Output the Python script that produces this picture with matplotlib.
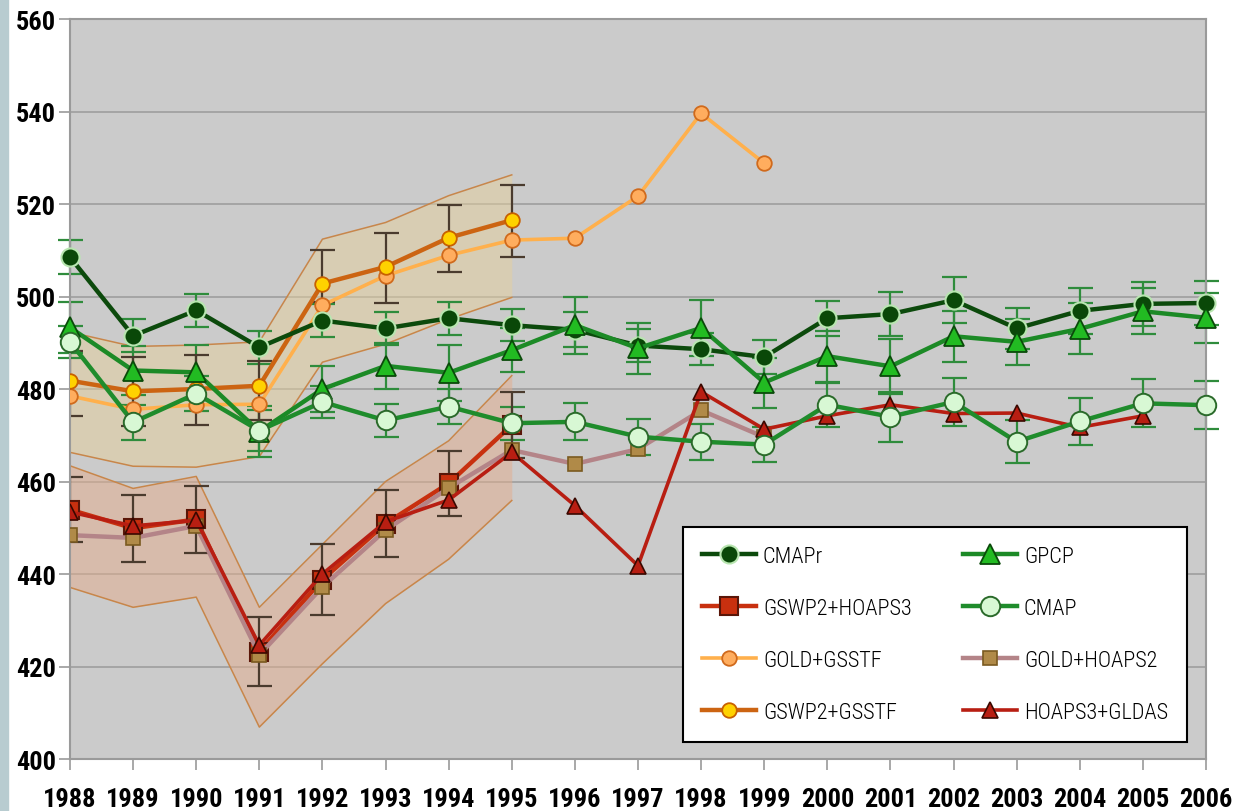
import numpy as np
import matplotlib.pyplot as plt
from matplotlib import font_manager
from matplotlib.patches import Rectangle

nan = np.nan

# ---- data -------------------------------------------------------------
years = [1988, 1989, 1990, 1991, 1992, 1993, 1994, 1995, 1996, 1997,
         1998, 1999, 2000, 2001, 2002, 2003, 2004, 2005, 2006]
ens_years = years[:8]

cmapr = [508.5, 491.5, 497.0, 489.0, 494.8, 493.1, 495.3, 493.8, 492.8, 489.4,
         488.6, 486.9, 495.3, 496.2, 499.2, 493.1, 496.9, 498.4, 498.6]
cmapr_err = [3.7, 3.6, 3.5, 3.5, 3.5, 3.5, 3.6, 3.5, 3.8, 3.6,
             3.5, 3.6, 3.8, 4.8, 5.0, 4.5, 4.9, 4.7, 4.8]

gpcp = [493.3, 484.0, 483.6, 470.8, 480.0, 485.0, 483.5, 488.4, 493.8, 488.8,
        493.2, 481.4, 487.1, 484.9, 491.4, 490.2, 493.0, 496.8, 495.4]
gpcp_err = [5.6, 5.2, 6.0, 5.5, 5.0, 5.0, 6.0, 4.8, 6.2, 5.5,
            6.0, 5.4, 5.5, 6.0, 5.5, 5.0, 5.5, 5.0, 5.4]

cmap = [490.2, 472.8, 479.0, 471.0, 477.2, 473.2, 476.2, 472.6, 472.9, 469.7,
        468.6, 468.0, 476.6, 474.0, 477.2, 468.6, 473.0, 476.9, 476.5]
cmap_err = [3.5, 3.8, 3.8, 4.5, 3.4, 3.6, 3.8, 3.6, 4.0, 3.9,
            3.9, 3.8, 4.8, 5.4, 5.2, 4.7, 5.1, 5.2, 5.2]

gswp2_hoaps3 = [453.9, 449.9, 451.8, 423.2, 438.8, 450.9, 459.6, 472.2]
gswp2_hoaps3_err = [7.0, 7.2, 7.2, 7.4, 7.6, 7.2, 7.1, 7.2]

gold_hoaps2 = [448.4, 447.8, 450.4, 422.5, 437.2, 449.5, 458.6, 466.8, 463.8, 467.0,
               475.4, 469.6, nan, nan, nan, nan, nan, nan, nan]

hoaps3_gldas = [453.4, 450.4, 451.6, 424.6, 440.0, 451.3, 456.0, 466.3, 454.8, 441.8,
                479.4, 471.3, 474.2, 476.6, 474.7, 474.8, 471.7, 474.2, nan]

gold_gsstf = [478.5, 475.6, 476.6, 476.7, 498.1, 504.5, 508.9, 512.2, 512.6, 521.7,
              539.6, 528.8, nan, nan, nan, nan, nan, nan, nan]

gswp2_gsstf = [481.8, 479.5, 480.0, 480.7, 502.8, 506.4, 512.7, 516.5]
gswp2_gsstf_lo = [7.6, 7.5, 7.8, 7.5, 4.0, 7.7, 7.3, 7.9]
gswp2_gsstf_hi = [6.5, 7.5, 7.4, 5.4, 7.3, 7.3, 7.1, 7.7]

# ensemble spread envelopes
gsstf_band_hi = [492.3, 489.2, 489.5, 490.2, 512.4, 516.0, 521.8, 526.3]
gsstf_band_lo = [466.3, 463.3, 463.1, 465.4, 485.8, 489.7, 495.1, 499.8]
hoaps_band_hi = [463.4, 458.5, 461.1, 432.8, 446.4, 460.0, 468.8, 482.9]
hoaps_band_lo = [437.1, 432.8, 435.0, 406.9, 420.6, 433.6, 443.2, 455.9]

# ---- fonts: prefer a narrow sans, else condensed DejaVu, else plain -----
ttf = font_manager.fontManager.ttflist
names = {f.name for f in ttf}
narrow = next((n for n in ['Liberation Sans Narrow', 'Arial Narrow',
                           'Roboto Condensed', 'Open Sans Condensed',
                           'DejaVu Sans Condensed'] if n in names), None)
dv_cond = any(f.name == 'DejaVu Sans' and str(f.stretch) in
              ('condensed', 'semi-condensed', '300', '400') for f in ttf)

if narrow:
    font = dict(family=[narrow, 'DejaVu Sans'], stretch='normal')
    tick_size, leg_size = 19, 16
elif dv_cond:
    font = dict(family=['DejaVu Sans'], stretch='condensed')
    tick_size, leg_size = 17, 15
else:
    font = dict(family=['DejaVu Sans'], stretch='normal')
    tick_size, leg_size = 14.5, 13
plt.rcParams['font.family'] = font['family']
plt.rcParams['font.stretch'] = font['stretch']

# ---- figure -------------------------------------------------------------
fig = plt.figure(figsize=(12.33, 8.12), dpi=100)
fig.patches.append(Rectangle((0, 0), 8 / 1233, 1, transform=fig.transFigure,
                             color='#b8ccd0', zorder=0))
ax = fig.add_axes([70 / 1233, 52 / 812, 1136 / 1233, 740 / 812])
ax.set_facecolor('#cbcbcb')

ax.set_xlim(1988, 2006)
ax.set_ylim(400, 560)
ax.set_yticks(np.arange(400, 561, 20))
ax.set_xticks(years)
ax.grid(axis='y', color='#a2a2a2', lw=1.3, zorder=0)
ax.set_axisbelow(True)

for s in ax.spines.values():
    s.set_color('#9a9a9a')
    s.set_linewidth(1.5)

ax.tick_params(axis='both', colors='#9a9a9a', length=8, width=1.2,
               labelcolor='black', labelsize=tick_size)
ax.tick_params(axis='x', pad=12)
ax.tick_params(axis='y', pad=2)
for lab in ax.get_xticklabels() + ax.get_yticklabels():
    lab.set_fontweight('bold')

# envelopes
ax.fill_between(ens_years, gsstf_band_lo, gsstf_band_hi, color='#e6cf9c',
                alpha=0.5, lw=0, zorder=1)
ax.fill_between(ens_years, hoaps_band_lo, hoaps_band_hi, color='#e4ad8c',
                alpha=0.5, lw=0, zorder=1)
for edge in (gsstf_band_lo, gsstf_band_hi, hoaps_band_lo, hoaps_band_hi):
    ax.plot(ens_years, edge, color='#c8864a', lw=1.1, zorder=1.5)

# error bars
green_err = dict(fmt='none', ecolor='#2f8c3c', elinewidth=1.6, capsize=9,
                 capthick=1.6, zorder=2, clip_on=False)
dark_err = dict(fmt='none', ecolor='#4a3b2e', elinewidth=1.6, capsize=9,
                capthick=1.6, zorder=2)
ax.errorbar(years, cmapr, yerr=cmapr_err, **green_err)
ax.errorbar(years, gpcp, yerr=gpcp_err, **green_err)
ax.errorbar(years, cmap, yerr=cmap_err, **green_err)
ax.errorbar(ens_years, gswp2_hoaps3, yerr=gswp2_hoaps3_err, **dark_err)
ax.errorbar(ens_years, gswp2_gsstf, yerr=[gswp2_gsstf_lo, gswp2_gsstf_hi],
            **dark_err)

# series
h_gh3, = ax.plot(ens_years, gswp2_hoaps3, color='#c8300f', lw=3.2, marker='s',
                 ms=13, mfc='#c8300f', mec='#5a1608', mew=1.5, zorder=3,
                 label='GSWP2+HOAPS3')
h_gh2, = ax.plot(years, gold_hoaps2, color='#b48488', lw=3.2, marker='s',
                 ms=10.5, mfc='#b08a48', mec='#7a5a20', mew=1.2, zorder=3.2,
                 label='GOLD+HOAPS2')
h_hg, = ax.plot(years, hoaps3_gldas, color='#b81e12', lw=2.6, marker='^',
                ms=11, mfc='#b81e12', mec='#3a0800', mew=1.2, zorder=3.4,
                label='HOAPS3+GLDAS')
h_gg, = ax.plot(years, gold_gsstf, color='#ffb04c', lw=2.6, marker='o',
                ms=10.5, mfc='#ffad5e', mec='#d06a1c', mew=1.3, zorder=3.6,
                label='GOLD+GSSTF')
h_gs, = ax.plot(ens_years, gswp2_gsstf, color='#cc6412', lw=3.2, marker='o',
                ms=10.5, mfc='#ffd200', mec='#c86000', mew=1.3, zorder=3.8,
                label='GSWP2+GSSTF')
h_cr, = ax.plot(years, cmapr, color='#0c4a0c', lw=3.2, marker='o', ms=13,
                mfc='#0a4808', mec='#b8e6b0', mew=1.5, zorder=4,
                label='CMAPr', clip_on=False)
h_gp, = ax.plot(years, gpcp, color='#1c8a26', lw=3.2, marker='^', ms=15,
                mfc='#22bb22', mec='#0a4a0a', mew=1.3, zorder=4.2,
                label='GPCP', clip_on=False)
h_cm, = ax.plot(years, cmap, color='#1f8c2c', lw=3.2, marker='o', ms=14,
                mfc='#d8f8d4', mec='#2a6a2a', mew=1.4, zorder=4.4,
                label='CMAP', clip_on=False)

handles = [h_cr, h_gh3, h_gg, h_gs, h_gp, h_cm, h_gh2, h_hg]
leg = ax.legend(handles=handles, ncol=2, loc='upper left',
                bbox_to_anchor=(683 / 1233, 1 - 528 / 812),
                bbox_transform=fig.transFigure,
                prop=dict(size=leg_size, weight='light'),
                frameon=True, fancybox=False, framealpha=1,
                edgecolor='black', borderpad=0.85, labelspacing=1.4,
                handlelength=2.45, handletextpad=0.3, columnspacing=2.3,
                borderaxespad=0)
leg.get_frame().set_linewidth(1.5)
leg.set_zorder(10)

fig.savefig('out.png', dpi=100, facecolor='white')
